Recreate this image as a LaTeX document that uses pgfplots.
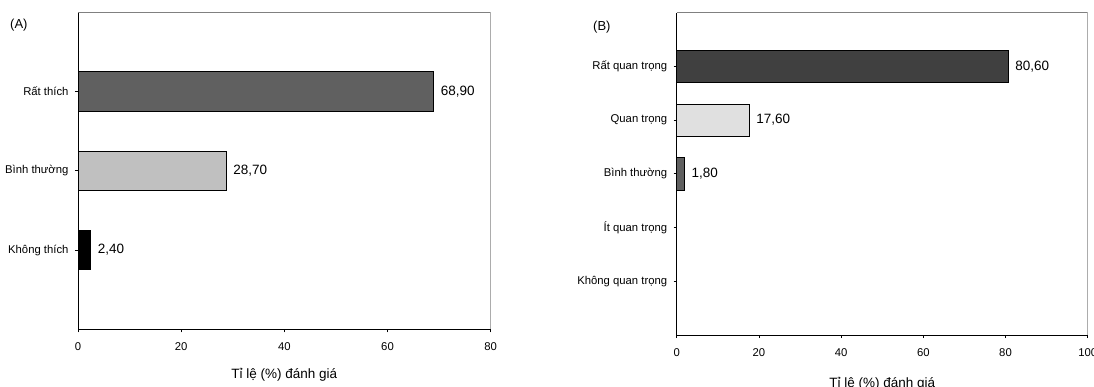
\documentclass[border=0pt]{standalone}
\usepackage{pgfplots}
\pgfplotsset{compat=1.18}
\usepackage{fontspec}
\setmainfont{Liberation Sans}
\definecolor{cA1}{HTML}{606060}
\definecolor{cA2}{HTML}{C0C0C0}
\definecolor{cB1}{HTML}{404040}
\definecolor{cB2}{HTML}{E0E0E0}
\definecolor{cB3}{HTML}{606060}
\definecolor{frame}{HTML}{808080}
\pgfplotsset{myax/.style={
  scale only axis, xbar, anchor=south west,
  axis x line*=bottom, axis y line*=left,
  tick align=outside, major tick length=3bp,
  axis line style={black, line width=0.8bp},
  tick style={black, line width=0.8bp},
  /pgf/number format/assume math mode=true,
  tick label style={font=\fontsize{11.3bp}{13bp}\selectfont},
  xticklabel style={yshift=-7bp},
  yticklabel style={xshift=-3bp},
  xlabel style={font=\fontsize{13.5bp}{16bp}\selectfont},
  point meta=x,
  nodes near coords={\pgfmathprintnumber[fixed,fixed zerofill,precision=2,use comma]{\pgfplotspointmeta}},
  every node near coord/.append style={font=\fontsize{13.5bp}{16bp}\selectfont, anchor=west, inner sep=0pt, xshift=7bp, text=black},
  every axis plot/.append style={draw=black, line width=0.8bp, bar shift=0pt},
}}
\begin{document}
\begin{tikzpicture}
\path[use as bounding box] (0,0) rectangle (1094bp,-387bp);
\begin{axis}[myax, at={(78bp,-329.3bp)}, width=412.7bp, height=317bp,
  xmin=0, xmax=80, ymin=0, ymax=4, xtick={0,20,40,60,80},
  ytick={1,2,3}, yticklabels={Không thích,Bình thường,Rất thích},
  bar width=0.5, xlabel={Tỉ lệ (\%) đánh giá}, xlabel style={yshift=-11bp}]
\addplot[fill=black] coordinates {(2.4,1)};
\addplot[fill=cA2] coordinates {(28.7,2)};
\addplot[fill=cA1] coordinates {(68.9,3)};
\draw[frame, line width=0.8bp] (rel axis cs:0,1) -- (rel axis cs:1,1) -- (rel axis cs:1,0);
\end{axis}
\begin{axis}[myax, at={(676.7bp,-335bp)}, width=411bp, height=322.3bp,
  xmin=0, xmax=100, ymin=0, ymax=6, xtick={0,20,40,60,80,100},
  ytick={1,2,3,4,5}, yticklabels={Không quan trọng,Ít quan trọng,Bình thường,Quan trọng,Rất quan trọng},
  bar width=0.6, xlabel={Tỉ lệ (\%) đánh giá}, xlabel style={yshift=-13.5bp}]
\addplot[fill=cB3] coordinates {(1.8,3)};
\addplot[fill=cB2] coordinates {(17.6,4)};
\addplot[fill=cB1] coordinates {(80.6,5)};
\draw[frame, line width=0.8bp] (rel axis cs:0,1) -- (rel axis cs:1,1) -- (rel axis cs:1,0);
\end{axis}
\node[anchor=west, inner sep=0pt, font=\fontsize{13bp}{15bp}\selectfont] at (10bp,-25bp) {(A)};
\node[anchor=west, inner sep=0pt, font=\fontsize{13bp}{15bp}\selectfont] at (593bp,-27bp) {(B)};
\end{tikzpicture}
\end{document}
